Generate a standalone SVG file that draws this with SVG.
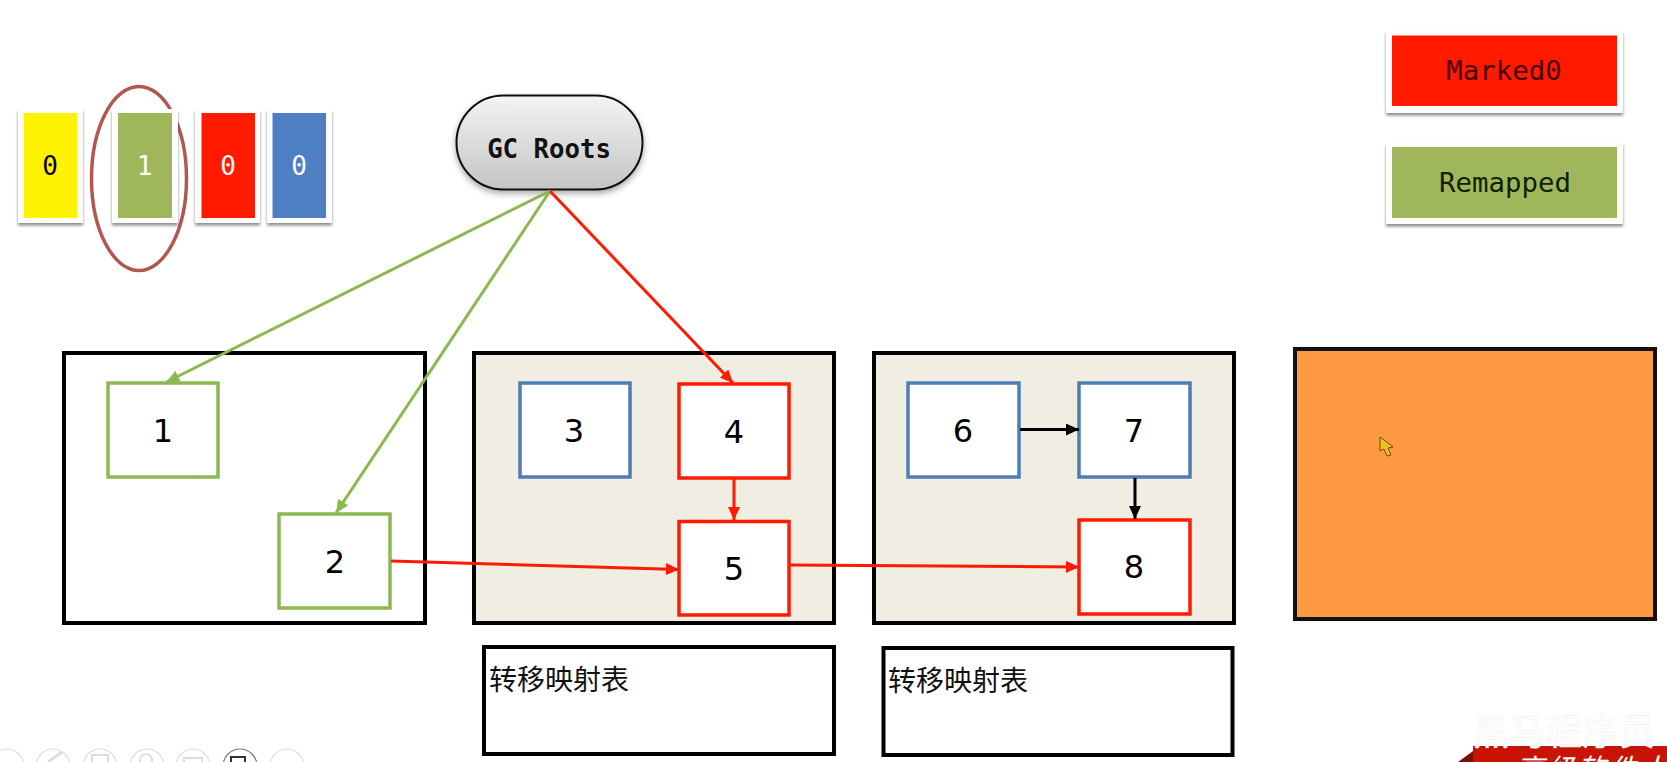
<svg xmlns="http://www.w3.org/2000/svg" width="1667" height="762" viewBox="0 0 1667 762">
<style>
.mono{font-family:"DejaVu Sans Mono","Liberation Mono",monospace;text-anchor:middle}
.num{font-family:"DejaVu Sans","Noto Sans",sans-serif;font-size:32px;text-anchor:middle;fill:#000}
.cjk{font-family:"Liberation Sans","Noto Sans CJK SC",sans-serif;font-size:28px;fill:#111}
.card{fill:#fff;filter:url(#sh)}
.panel{stroke:#000;stroke-width:4;fill:#fff}
.tint{fill:#f0ede3}
.n{fill:#fff;stroke-width:3.5}
.g{stroke:#8bb851}.r{stroke:#ff1a00}.b{stroke:#4f7cb5}
.c{fill:none;stroke-width:3}
.tool{fill:#fff;stroke:#ddd;stroke-width:1.2}
</style>
<defs>
<filter id="sh" x="-20%" y="-20%" width="140%" height="140%"><feDropShadow dx="0" dy="2.500" stdDeviation="1.800" flood-color="#000" flood-opacity=".45"/></filter>
<filter id="sh2" x="-20%" y="-20%" width="140%" height="140%"><feDropShadow dx="0" dy="3" stdDeviation="3" flood-color="#000" flood-opacity=".35"/></filter>
<linearGradient id="gc" x1="0" y1="0" x2="0" y2="1"><stop offset="0" stop-color="#f4f4f4"/><stop offset="1" stop-color="#c4c4c4"/></linearGradient>
<marker id="ag" markerUnits="userSpaceOnUse" markerWidth="14" markerHeight="12" refX="13" refY="6" orient="auto"><path d="M0 0L13 6L0 12z" fill="#8bb851"/></marker>
<marker id="ar" markerUnits="userSpaceOnUse" markerWidth="14" markerHeight="12" refX="13" refY="6" orient="auto"><path d="M0 0L13 6L0 12z" fill="#ff1a00"/></marker>
<marker id="ak" markerUnits="userSpaceOnUse" markerWidth="14" markerHeight="12" refX="13" refY="6" orient="auto"><path d="M0 0L13 6L0 12z" fill="#000"/></marker>
</defs>
<rect width="1667" height="762" fill="#fff"/>

<g id="bit-ring"><ellipse cx="139" cy="178.500" rx="47.500" ry="92" fill="none" stroke="#b2574f" stroke-width="3.500"/></g>
<g id="bit-0-yellow"><rect class="card" x="18" y="109" width="65" height="114"/><rect x="23.500" y="113" width="53.500" height="105" fill="#fff200"/><text class="mono" x="50" y="175" font-size="26" fill="#000">0</text></g>
<g id="bit-1-green"><rect class="card" x="112" y="109" width="66" height="114"/><rect x="118" y="113" width="54" height="105" fill="#9fb65a"/><text class="mono" x="144.500" y="175" font-size="26" fill="#fff">1</text></g>
<g id="bit-0-red"><rect class="card" x="195" y="109" width="65" height="114"/><rect x="201.500" y="113" width="53.500" height="105" fill="#ff1a00"/><text class="mono" x="228" y="175" font-size="26" fill="#fff">0</text></g>
<g id="bit-0-blue"><rect class="card" x="267" y="109" width="65" height="114"/><rect x="272.500" y="113" width="53.500" height="105" fill="#4f7fc3"/><text class="mono" x="299" y="175" font-size="26" fill="#fff">0</text></g>

<g id="gc-roots"><rect x="456.500" y="95.500" width="186" height="94" rx="47" fill="url(#gc)" stroke="#111" stroke-width="2" filter="url(#sh2)"/><text class="mono" x="549" y="158" font-size="25.700" font-weight="bold" fill="#111">GC Roots</text></g>

<g id="legend-marked0"><rect class="card" x="1386" y="31" width="237" height="82"/><rect x="1392" y="35.500" width="225" height="70.500" fill="#ff1a00"/><text class="mono" x="1504" y="80" font-size="27.400" fill="#400">Marked0</text></g>
<g id="legend-remapped"><rect class="card" x="1386" y="143" width="237" height="81"/><rect x="1392" y="147" width="225" height="71" fill="#9fb65a"/><text class="mono" x="1505" y="192" font-size="27.400" fill="#102000">Remapped</text></g>

<g id="region-1"><rect class="panel" x="64" y="353" width="361" height="270"/></g>
<g id="region-2"><rect class="panel tint" x="474" y="353" width="360" height="270"/></g>
<g id="region-3"><rect class="panel tint" x="874" y="353" width="360" height="270"/></g>
<g id="region-empty"><rect x="1295" y="349" width="360" height="270" fill="#fd9a42" stroke="#111" stroke-width="4"/></g>

<g id="node-1"><rect class="n g" x="108" y="383" width="110" height="94"/><text class="num" x="163" y="442">1</text></g>
<g id="node-2"><rect class="n g" x="279" y="514" width="111" height="94"/><text class="num" x="335" y="573">2</text></g>
<g id="node-3"><rect class="n b" x="520" y="383" width="110" height="94"/><text class="num" x="574" y="442">3</text></g>
<g id="node-4"><rect class="n r" x="679" y="384" width="110" height="94"/><text class="num" x="734" y="443">4</text></g>
<g id="node-5"><rect class="n r" x="679" y="521.500" width="110" height="93.500"/><text class="num" x="734" y="580">5</text></g>
<g id="node-6"><rect class="n b" x="908" y="383" width="111" height="94"/><text class="num" x="963" y="442">6</text></g>
<g id="node-7"><rect class="n b" x="1079" y="383" width="111" height="94"/><text class="num" x="1134" y="442">7</text></g>
<g id="node-8"><rect class="n r" x="1079" y="520" width="111" height="94"/><text class="num" x="1134" y="578">8</text></g>

<g id="connectors" class="c">
<line class="c g" x1="550" y1="191" x2="166.500" y2="382" marker-end="url(#ag)"/>
<line class="c g" x1="550" y1="191" x2="336" y2="513" marker-end="url(#ag)"/>
<line class="c r" x1="550" y1="191" x2="733" y2="383" marker-end="url(#ar)"/>
<line class="c r" x1="734" y1="479" x2="734" y2="520" marker-end="url(#ar)"/>
<line class="c r" x1="391" y1="561" x2="679" y2="569.500" marker-end="url(#ar)"/>
<line class="c r" x1="790" y1="565" x2="1079" y2="567" marker-end="url(#ar)"/>
<line class="c" stroke="#000" x1="1020" y1="429.500" x2="1079" y2="429.500" marker-end="url(#ak)"/>
<line class="c" stroke="#000" x1="1135" y1="478" x2="1135" y2="519" marker-end="url(#ak)"/>
</g>

<g id="table-1"><rect x="484" y="647" width="350" height="107" fill="#fff" stroke="#000" stroke-width="4"/><text class="cjk" x="489" y="690">转移映射表</text></g>
<g id="table-2"><rect x="883.500" y="648" width="349" height="107" fill="#fff" stroke="#000" stroke-width="4"/><text class="cjk" x="888" y="691">转移映射表</text></g>

<g id="cursor"><polygon points="1380,437 1380,451 1384,449 1387,456 1391,455 1388,448 1393,447" fill="#f2c21a" stroke="#6b4a10" stroke-width="1"/></g>

<g id="toolbar">
<circle class="tool" cx="7" cy="766" r="17"/><circle class="tool" cx="53" cy="766" r="17"/><circle class="tool" cx="100" cy="766" r="17"/><circle class="tool" cx="147" cy="766" r="17"/><circle class="tool" cx="193" cy="766" r="17"/><circle cx="240" cy="766" r="17" fill="#fff" stroke="#777" stroke-width="1.200"/><circle class="tool" cx="287" cy="766" r="17"/>
<path d="M48 762l14-10" stroke="#ddd" stroke-width="3" fill="none"/><rect x="92" y="755" width="16" height="10" fill="none" stroke="#ddd" stroke-width="2"/><circle cx="146" cy="760" r="6" fill="none" stroke="#ddd" stroke-width="2"/><rect x="184" y="758" width="18" height="8" fill="none" stroke="#ddd" stroke-width="2"/><rect x="231" y="757" width="14" height="8" fill="none" stroke="#333" stroke-width="2"/>
</g>

<g id="watermark">
<polygon points="1458,762 1480,746 1480,762" fill="#7a0f05"/>
<rect x="1473" y="746" width="194" height="16" fill="#c81405"/>
<text x="1473" y="745" font-family="'Noto Sans CJK SC',sans-serif" font-size="36" fill="#fff" stroke="#f0f0f0" stroke-width=".6" textLength="182">黑马程序员</text>
<text x="1516" y="779" font-family="'Noto Sans CJK SC',sans-serif" font-size="28" font-style="italic" fill="#fff" textLength="151">高级软件人</text>
</g>
</svg>
